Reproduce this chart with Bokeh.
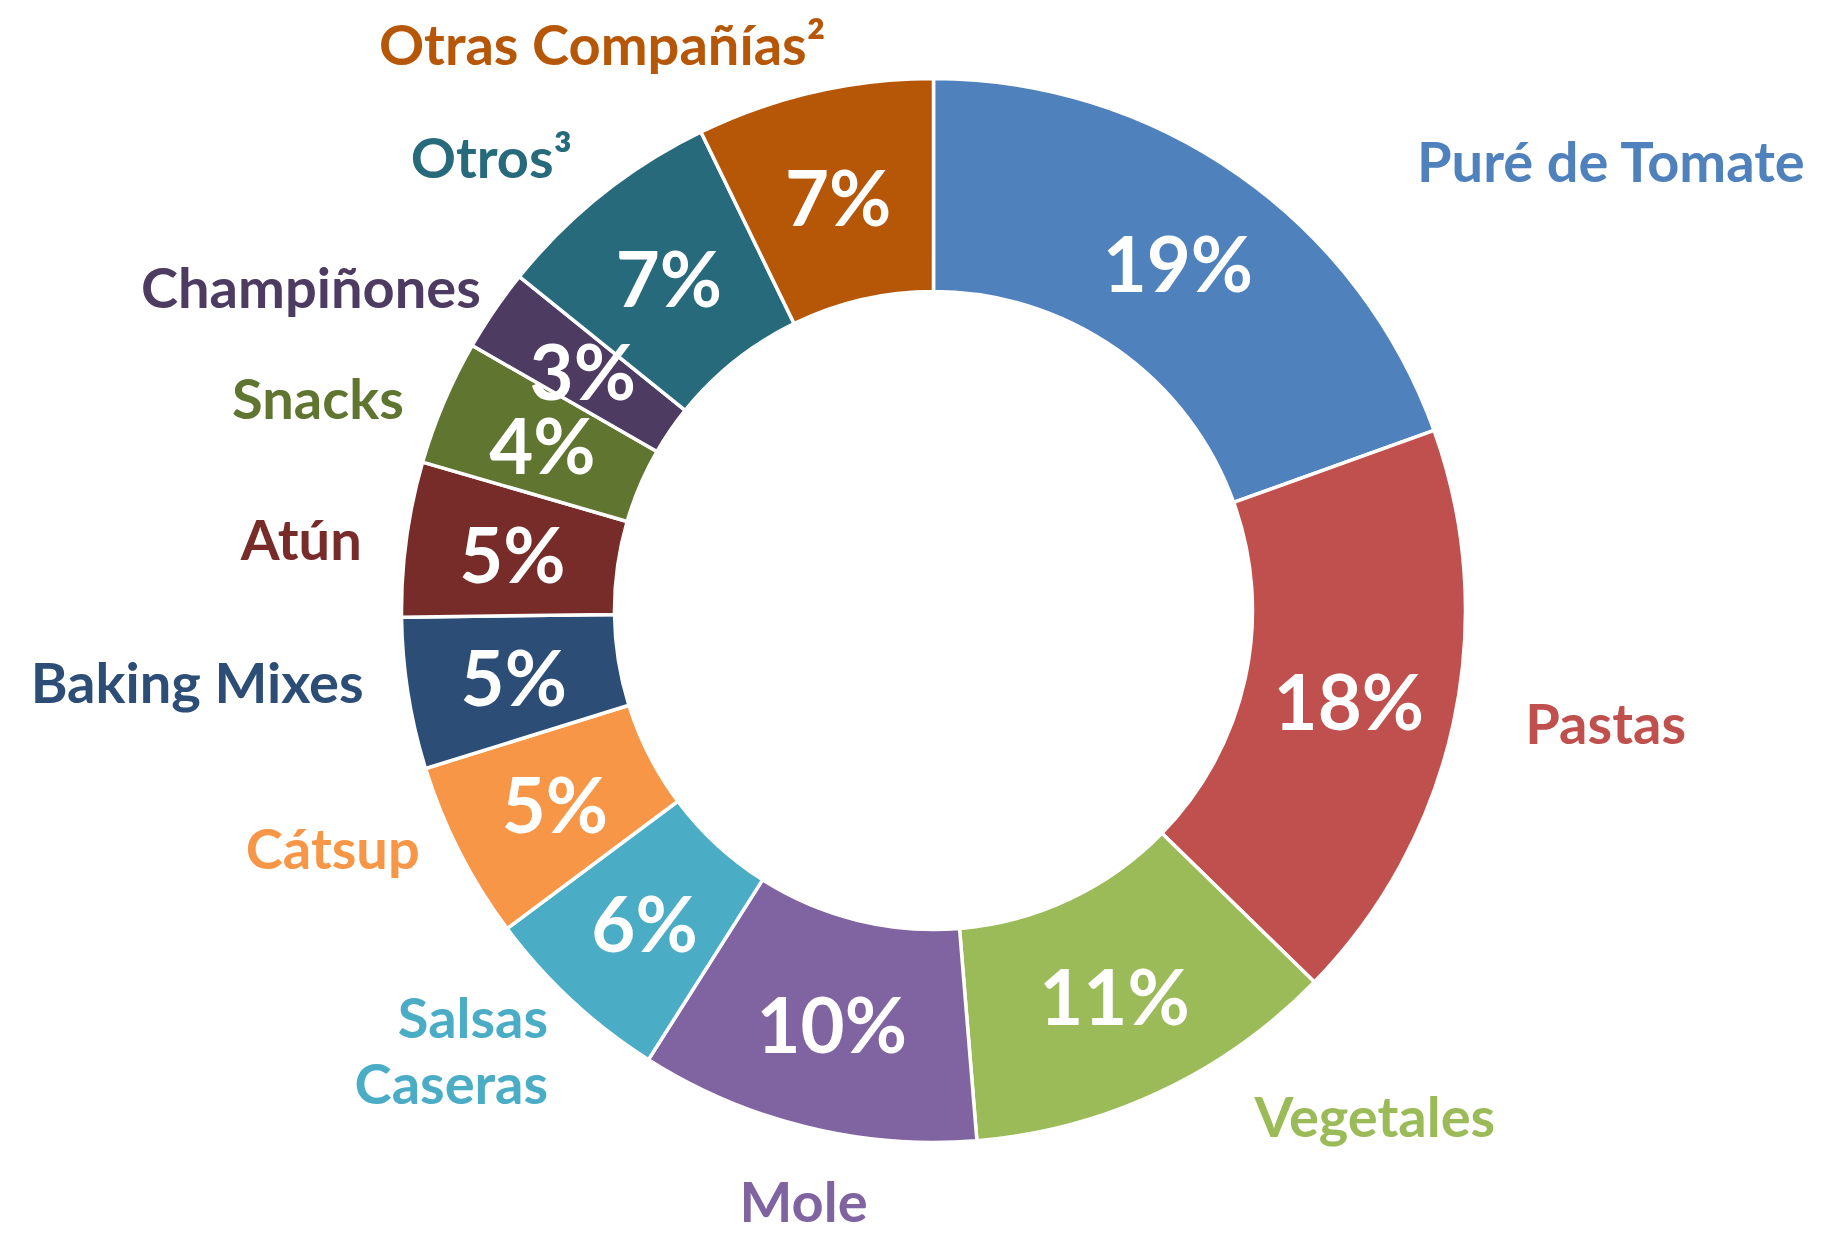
import math
from bokeh.plotting import figure
from bokeh.models import ColumnDataSource, Range1d
from bokeh.core.properties import value
from bokeh.embed import file_html
from bokeh.resources import INLINE

# ---- data ----
categories = ["Puré de Tomate", "Pastas", "Vegetales", "Mole", "Salsas\nCaseras",
              "Cátsup", "Baking Mixes", "Atún", "Snacks", "Champiñones",
              "Otros³", "Otras Compañías²"]
shares = [19.5, 17.8, 11.4, 10.3, 5.8, 5.4, 4.6, 4.7, 3.8, 2.5, 7.0, 7.2]
pct_labels = ["19%", "18%", "11%", "10%", "6%", "5%", "5%", "5%", "4%", "3%", "7%", "7%"]
colors = ["#4F81BD", "#C0504D", "#9BBB59", "#8064A2", "#4BACC6", "#F79646",
          "#2C4D75", "#772C2A", "#5F7530", "#4D3B62", "#276A7C", "#B65708"]

# ---- layout ----
W, H = 1825, 1234
CX, CY = 933, H - 610
R_OUT, R_IN = 532, 319
R_PCT = 425
R_LAB = 580
FONT = "Lato"
# manual nudges (pixels, y up) for the category labels
nudge = {"Puré de Tomate": (150, -25), "Pastas": (25, 11), "Vegetales": (74, 20),
         "Mole": (9, -27), "Champiñones": (26, -4), "Cátsup": (3, 26),
         "Baking Mixes": (3, 20), "Atún": (3, -6), "Snacks": (4, -14),
         "Salsas\nCaseras": (9, -14), "Otras Compañías²": (22, 2)}

total = sum(shares)
starts, ends, mids = [], [], []
cum = 0.0
for s in shares:
    a0 = math.pi / 2 - 2 * math.pi * cum / total
    cum += s
    a1 = math.pi / 2 - 2 * math.pi * cum / total
    starts.append(a1)
    ends.append(a0)
    mids.append((a0 + a1) / 2)

src = ColumnDataSource(dict(start=starts, end=ends, color=colors))

p = figure(width=W, height=H, output_backend="svg", toolbar_location=None,
           x_range=Range1d(0, W), y_range=Range1d(0, H), min_border=0)
p.axis.visible = False
p.grid.visible = False
p.outline_line_color = None
p.background_fill_color = "white"

p.annular_wedge(x=CX, y=CY, inner_radius=R_IN, outer_radius=R_OUT,
                start_angle="start", end_angle="end", fill_color="color",
                line_color="white", line_width=3.5, source=src)

# percentage labels inside the ring
px = [CX + R_PCT * math.cos(m) for m in mids]
py = [CY + R_PCT * math.sin(m) for m in mids]
p.text(x=px, y=py, text=pct_labels, text_color="white", text_align="center",
       text_baseline="middle", text_font=value(FONT), text_font_style="bold",
       text_font_size="76px")

# category labels outside
lx, ly, la = [], [], []
for c, m in zip(categories, mids):
    x = CX + R_LAB * math.cos(m)
    y = CY + R_LAB * math.sin(m)
    dx, dy = nudge.get(c, (0, 0))
    lx.append(x + dx)
    ly.append(y + dy)
    if math.sin(m) < -0.95:
        la.append("center")
    elif math.cos(m) < 0:
        la.append("right")
    else:
        la.append("left")
lsrc = ColumnDataSource(dict(x=lx, y=ly, text=categories, color=colors, align=la))
p.text(x="x", y="y", text="text", text_color="color", text_align="align",
       text_baseline="middle", text_font=value(FONT), text_font_style="bold",
       text_font_size="56px", text_line_height=0.98, source=lsrc)

open("out.html", "w").write(file_html(p, INLINE))
